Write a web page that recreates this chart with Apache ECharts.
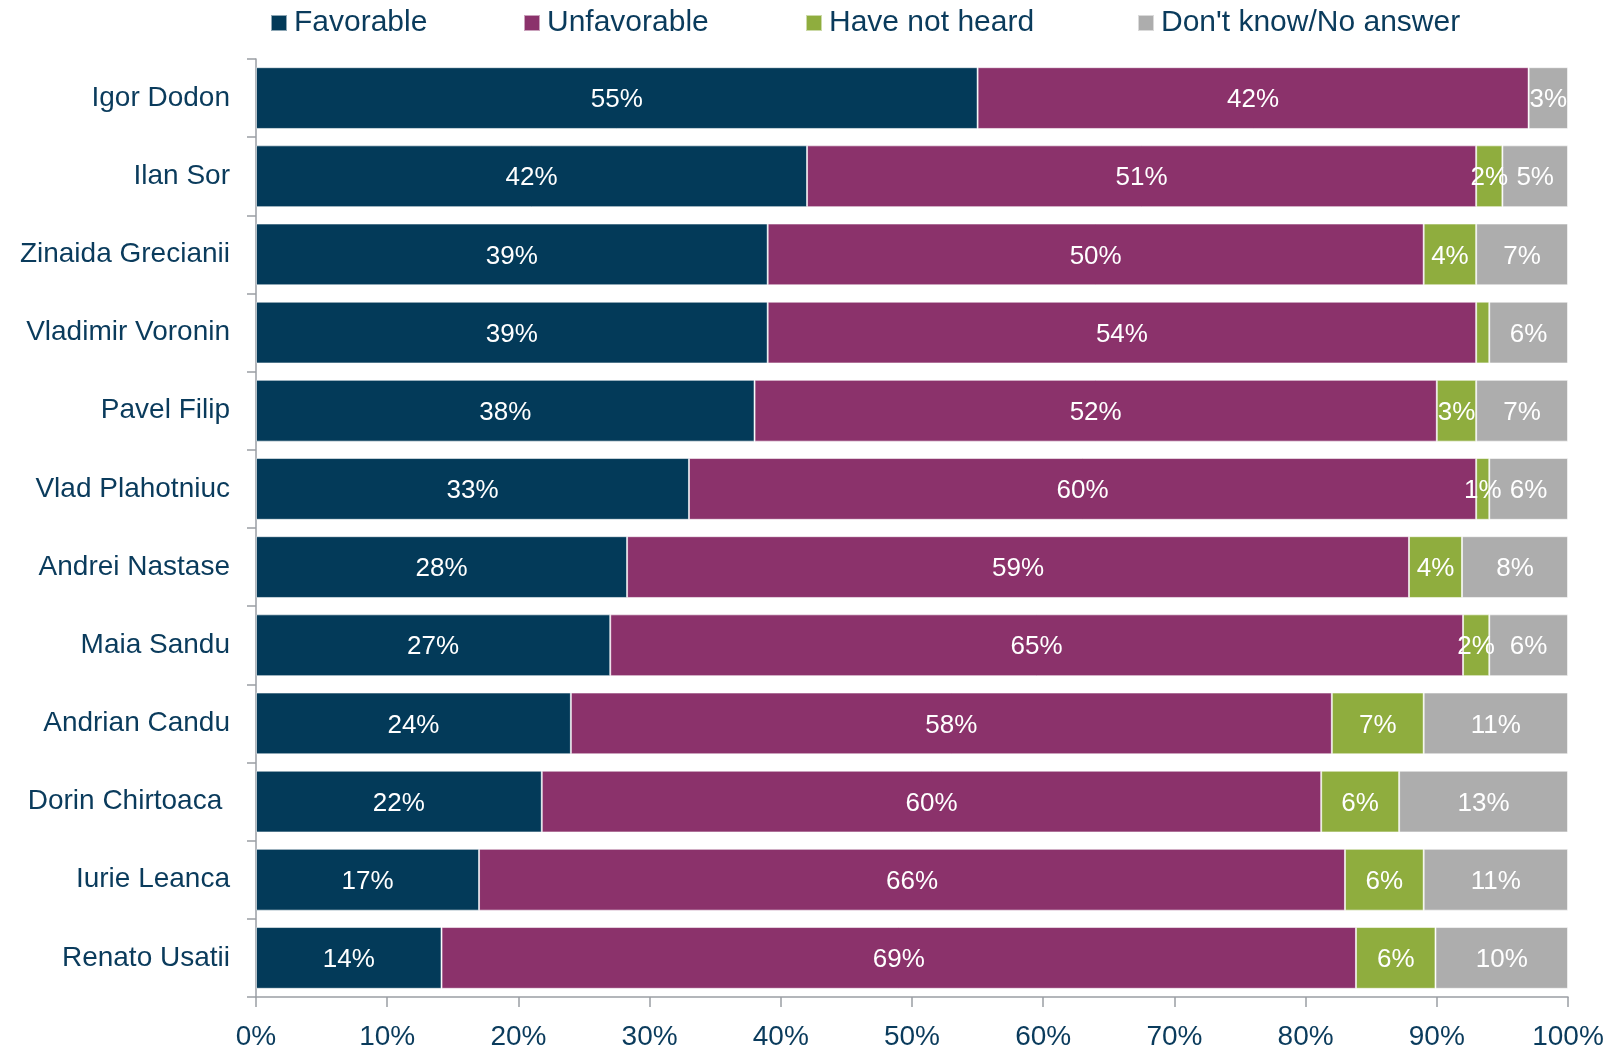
<!DOCTYPE html>
<html>
<head>
  <meta charset="utf-8">
  <script src="https://cdn.jsdelivr.net/npm/echarts@6.0.0/dist/echarts.min.js"></script>
  <style>
    body { margin: 0; padding: 0; background: #fff; }
    #chart { width: 1604px; height: 1053px; }
  </style>
</head>
<body>
  <div id="chart"></div>
  <script>
    // 候选人名单（从上到下）
    const candidates = [
      'Igor Dodon', 'Ilan Sor', 'Zinaida Grecianii', 'Vladimir Voronin', 'Pavel Filip',
      'Vlad Plahotniuc', 'Andrei Nastase', 'Maia Sandu', 'Andrian Candu', 'Dorin Chirtoaca ',
      'Iurie Leanca', 'Renato Usatii'
    ];
    const seriesNames = ['Favorable', 'Unfavorable', 'Have not heard', "Don't know/No answer"];

    // 百分比（图上标注的数值）
    const favorable   = [55, 42, 39, 39, 38, 33, 28, 27, 24, 22, 17, 14];
    const unfavorable = [42, 51, 50, 54, 52, 60, 59, 65, 58, 60, 66, 69];
    const notHeard    = [0, 2, 4, 1, 3, 1, 4, 2, 7, 6, 6, 6];
    const dontKnow    = [3, 5, 7, 6, 7, 6, 8, 6, 11, 13, 11, 10];
    // 图上没有显示标签的 "Have not heard" 条目
    const notHeardNoLabel = ['Vladimir Voronin'];

    const colors = ['#033a59', '#8b326b', '#8fad3e', '#adadad'];
    const textColor = '#0a3b5c';
    const font = "'Liberation Sans', sans-serif";

    const rows = [favorable, unfavorable, notHeard, dontKnow];
    // 100% 堆叠：每行按总和归一化
    const rowSums = candidates.map((c, i) => rows.reduce((s, r) => s + r[i], 0));

    const series = rows.map((vals, k) => ({
      name: seriesNames[k],
      type: 'bar',
      stack: 'total',
      barCategoryGap: '21%',
      itemStyle: { color: colors[k], borderColor: 'rgba(255,255,255,0.55)', borderWidth: 1 },
      label: {
        position: 'inside',
        color: '#fff',
        fontFamily: font,
        fontSize: 26,
        offset: [0, 2],
        formatter: p => vals[p.dataIndex] + '%'
      },
      data: vals.map((v, i) => ({
        value: v / rowSums[i] * 100,
        label: { show: v > 0 && !(k === 2 && notHeardNoLabel.includes(candidates[i])) }
      }))
    }));

    const legendLefts = [265, 518, 800, 1132];
    const legends = seriesNames.map((n, k) => ({
      data: [n],
      left: legendLefts[k],
      top: 3,
      icon: 'rect',
      itemWidth: 16,
      itemHeight: 16,
      itemGap: 0,
      selectedMode: false,
      textStyle: { color: textColor, fontSize: 30, fontFamily: font, padding: [0, 0, 0, 2] }
    }));

    const chart = echarts.init(document.getElementById('chart'));
    chart.setOption({
      animation: false,
      color: colors,
      legend: legends,
      grid: { left: 256, right: 36, top: 59, bottom: 56, outerBoundsMode: 'none', containLabel: false },
      xAxis: {
        type: 'value',
        min: 0,
        max: 100,
        interval: 10,
        axisLine: { show: true, lineStyle: { color: '#9a9ea4', width: 1.5 } },
        axisTick: { show: true, length: 10, lineStyle: { color: '#9a9ea4', width: 1.5 } },
        splitLine: { show: false },
        axisLabel: {
          formatter: '{value}%',
          color: textColor,
          fontSize: 28,
          fontFamily: font,
          margin: 26
        }
      },
      yAxis: {
        type: 'category',
        inverse: true,
        data: candidates,
        axisLine: { show: true, lineStyle: { color: '#9a9ea4', width: 1.5 } },
        axisTick: { show: true, length: 9, lineStyle: { color: '#9a9ea4', width: 1.5 } },
        axisLabel: {
          color: textColor,
          fontSize: 28,
          fontFamily: font,
          margin: 26
        }
      },
      series: series
    });
  </script>
</body>
</html>
